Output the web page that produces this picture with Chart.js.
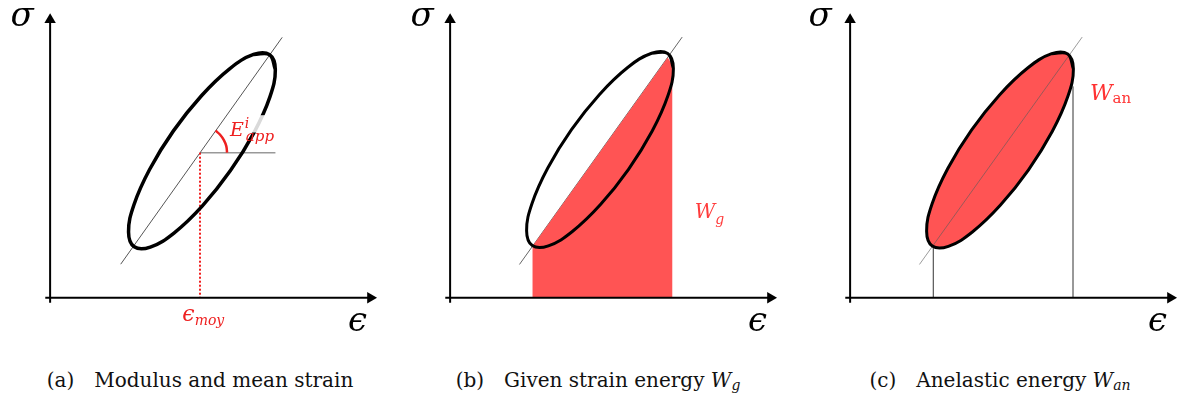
<!DOCTYPE html>
<html>
<head>
<meta charset="utf-8">
<script src="https://cdn.jsdelivr.net/npm/chart.js@4.4.0/dist/chart.umd.min.js"></script>
<style>
  body { margin: 0; background: #fff; width: 1188px; height: 401px; position: relative; overflow: hidden; }
  canvas.panel { position: absolute; top: 0; }
  .cap { position: absolute; top: 368px; width: 400px; text-align: center; white-space: nowrap;
         font-family: 'DejaVu Serif', 'Liberation Serif', serif; font-size: 20px; color: #111; }
  .cap i { font-style: italic; }
  .cap sub { font-size: 14px; vertical-align: -3px; }
</style>
</head>
<body>
<canvas id="panelA" class="panel" width="400" height="340" style="left:0"></canvas>
<canvas id="panelB" class="panel" width="400" height="340" style="left:400px"></canvas>
<canvas id="panelC" class="panel" width="400" height="340" style="left:800px"></canvas>
<div class="cap" style="left:0">(a)&emsp;Modulus and mean strain</div>
<div class="cap" style="left:398px">(b)&emsp;Given strain energy <i>W<sub>g</sub></i></div>
<div class="cap" style="left:800px">(c)&emsp;Anelastic energy <i>W<sub>an</sub></i></div>
<script>
// strain (x) / stress (y), arbitrary units
const loopA = [
  [22.70, 25.29], [21.04, 25.32], [18.56, 23.83], [15.65, 21.03],
  [12.75, 17.37], [10.30, 13.38], [8.67, 9.69], [8.11, 6.86],
  [8.70, 5.31], [10.36, 5.28], [12.84, 6.77], [15.75, 9.57],
  [18.65, 13.24], [21.10, 17.22], [22.73, 20.91], [23.29, 23.74]
];
const loopB = [
  [22.50, 25.42], [20.84, 25.45], [18.36, 23.96], [15.45, 21.16],
  [12.55, 17.50], [10.10, 13.51], [8.47, 9.82], [7.91, 6.99],
  [8.50, 5.44], [10.16, 5.41], [12.64, 6.90], [15.55, 9.70],
  [18.45, 13.37], [20.90, 17.35], [22.53, 21.04], [23.09, 23.87]
];
const loopC = [
  [22.50, 25.37], [20.84, 25.40], [18.36, 23.91], [15.45, 21.11],
  [12.55, 17.45], [10.10, 13.46], [8.47, 9.77], [7.91, 6.94],
  [8.50, 5.39], [10.16, 5.36], [12.64, 6.85], [15.55, 9.65],
  [18.45, 13.32], [20.90, 17.30], [22.53, 20.99], [23.09, 23.82]
];
const secantA = [[7.30, 3.50], [24.00, 27.10]];
const secantB = [[7.17, 3.47], [24.00, 27.13]];
const secantC = [[7.17, 3.47], [24.00, 27.13]];

const meanStrain = 15.5;
const meanStress = 15.1;
const horizRef = 23.3;
const modulusArc = [[18.30, 15.10], [18.22, 15.78], [17.97, 16.41], [17.58, 16.97], [17.11, 17.39]];

// upper edge of the given-energy area, filled down to zero stress
const givenEdge = [[8.5, 5.34], [22.5, 25.0], [23.0, 24.2]];

// strain bounds of the anelastic loop and stress where they meet it
const strainMin = 8.6, stressAtMin = 5.3;
const strainMax = 23.05, stressAtMax = 22.0;

const xAxisEnd = 33.0, yAxisEnd = 28.6;
const xArrow = 33.13, yArrow = 28.93;

const RED_FILL = 'rgb(255, 84, 84)';
const RED_TEXT = 'rgb(238, 32, 32)';
const SERIF = "'DejaVu Serif', 'Liberation Serif', serif";

const pts = a => a.map(([x, y]) => ({x, y}));
// close the loop: repeat neighbours so the spline stays smooth at the seam
const closed = a => pts([a[a.length - 1], ...a, a[0], a[1]]);

function line(data, color, width, order, extra) {
  return Object.assign({
    data: data, showLine: true, borderColor: color, borderWidth: width,
    pointRadius: 0, fill: false, tension: 0, order: order
  }, extra || {});
}

function axes() {
  return [
    line(pts([[-0.5, 0], [xAxisEnd, 0]]), '#000', 2, 0),
    line(pts([[0, -0.5], [0, yAxisEnd]]), '#000', 2, 0),
    { data: pts([[xArrow, 0]]), pointStyle: 'triangle', rotation: 90, pointRadius: 6.6,
      backgroundColor: '#000', borderWidth: 0, order: 0 },
    { data: pts([[0, yArrow]]), pointStyle: 'triangle', rotation: 0, pointRadius: 6.6,
      backgroundColor: '#000', borderWidth: 0, order: 0 }
  ];
}

const labelPlugin = {
  id: 'mathLabels',
  afterDatasetsDraw(chart, args, opts) {
    const ctx = chart.ctx;
    const sx = chart.scales.x, sy = chart.scales.y;
    ctx.save();
    (opts.masks || []).forEach(m => {
      const x0 = sx.getPixelForValue(m[0]), x1 = sx.getPixelForValue(m[2]);
      const y0 = sy.getPixelForValue(m[3]), y1 = sy.getPixelForValue(m[1]);
      ctx.fillStyle = 'rgba(255,255,255,0.85)';
      ctx.fillRect(x0, y0, x1 - x0, y1 - y0);
    });
    (opts.items || []).forEach(l => {
      const px = sx.getPixelForValue(l.x), py = sy.getPixelForValue(l.y);
      ctx.fillStyle = l.color || '#000';
      ctx.textBaseline = 'alphabetic';
      ctx.textAlign = l.align || 'left';
      ctx.font = (l.upright ? '' : 'italic ') + l.size + 'px ' + SERIF;
      ctx.fillText(l.text, px, py);
      const w = ctx.measureText(l.text).width;
      ctx.textAlign = 'left';
      if (l.sup) {
        ctx.font = 'italic ' + l.supSize + 'px ' + SERIF;
        ctx.fillText(l.sup, px + w + (l.supDx || 0), py + l.supDy);
      }
      if (l.sub) {
        ctx.font = (l.subUpright ? '' : 'italic ') + l.subSize + 'px ' + SERIF;
        ctx.fillText(l.sub, px + w + (l.subDx || 0), py + l.subDy);
      }
    });
    ctx.restore();
  }
};

function panel(id, datasets, labels, masks) {
  return new Chart(document.getElementById(id), {
    type: 'scatter',
    data: { datasets: datasets },
    options: {
      responsive: false, animation: false, devicePixelRatio: 1,
      layout: { padding: 0 },
      scales: {
        x: { type: 'linear', min: -4.5, max: 35.5, display: false },
        y: { type: 'linear', min: -3.7, max: 30.3, display: false }
      },
      plugins: {
        legend: { display: false }, tooltip: { enabled: false },
        mathLabels: { items: labels, masks: masks || [] }
      }
    },
    plugins: [labelPlugin]
  });
}

const axisLabels = sx => [
  { x: sx, y: 28.3, text: 'σ', size: 34, align: 'center' },
  { x: 31.8, y: -3.4, text: 'ϵ', size: 34, align: 'center' }
];

// (a) apparent modulus and mean strain
panel('panelA', [
  ...axes(),
  line(closed(loopA), '#000', 3.5, 1, { tension: 0.4 }),
  line(pts(secantA), '#555', 1, 3),
  line(pts([[meanStrain, meanStress], [horizRef, meanStress]]), '#999', 1.5, 3),
  line(pts([[meanStrain, meanStress], [meanStrain, 0]]), 'rgb(240,30,30)', 2, 2, { borderDash: [2, 2] }),
  line(pts(modulusArc), RED_TEXT, 2.5, 2, { tension: 0.4 })
], [
  ...axisLabels(-2.9),
  { x: 18.6, y: 16.8, text: 'E', size: 19, color: RED_TEXT,
    sup: 'i', supSize: 14, supDx: 1, supDy: -8,
    sub: 'app', subSize: 15, subDx: 2, subDy: 5 },
  { x: 13.67, y: -2.4, text: 'ϵ', size: 22, color: RED_TEXT,
    sub: 'moy', subSize: 14, subDx: 0, subDy: 4 }
], [[20.0, 17.2, 23.0, 19.0]]);

// (b) given strain energy
panel('panelB', [
  ...axes(),
  line(closed(loopB), '#000', 3, 1, { tension: 0.4 }),
  line(pts(givenEdge), 'rgba(0,0,0,0)', 0, 3, { fill: 'origin', backgroundColor: RED_FILL }),
  line(pts(secantB), '#666', 1, 4)
], [
  ...axisLabels(-2.9),
  { x: 25.3, y: 8.3, text: 'W', size: 20, color: 'rgb(255,60,60)',
    sub: 'g', subSize: 14, subDx: 0, subDy: 6 }
]);

// (c) anelastic energy
panel('panelC', [
  ...axes(),
  line(closed(loopC), '#000', 3, 1, { tension: 0.4 }),
  line(closed(loopC), 'rgba(0,0,0,0)', 0, 4, { tension: 0.4, fill: 'shape', backgroundColor: RED_FILL }),
  line(pts(secantC), 'rgba(90,90,90,0.6)', 1, 3),
  line(pts([[strainMin, 0], [strainMin, stressAtMin]]), '#333', 1, 3),
  line(pts([[strainMax, 0], [strainMax, stressAtMax]]), '#333', 1, 3)
], [
  ...axisLabels(-3.1),
  { x: 24.8, y: 20.6, text: 'W', size: 22, color: 'rgb(255,50,50)',
    sub: 'an', subSize: 15, subUpright: true, subDx: 0, subDy: 3 }
]);
</script>
</body>
</html>
